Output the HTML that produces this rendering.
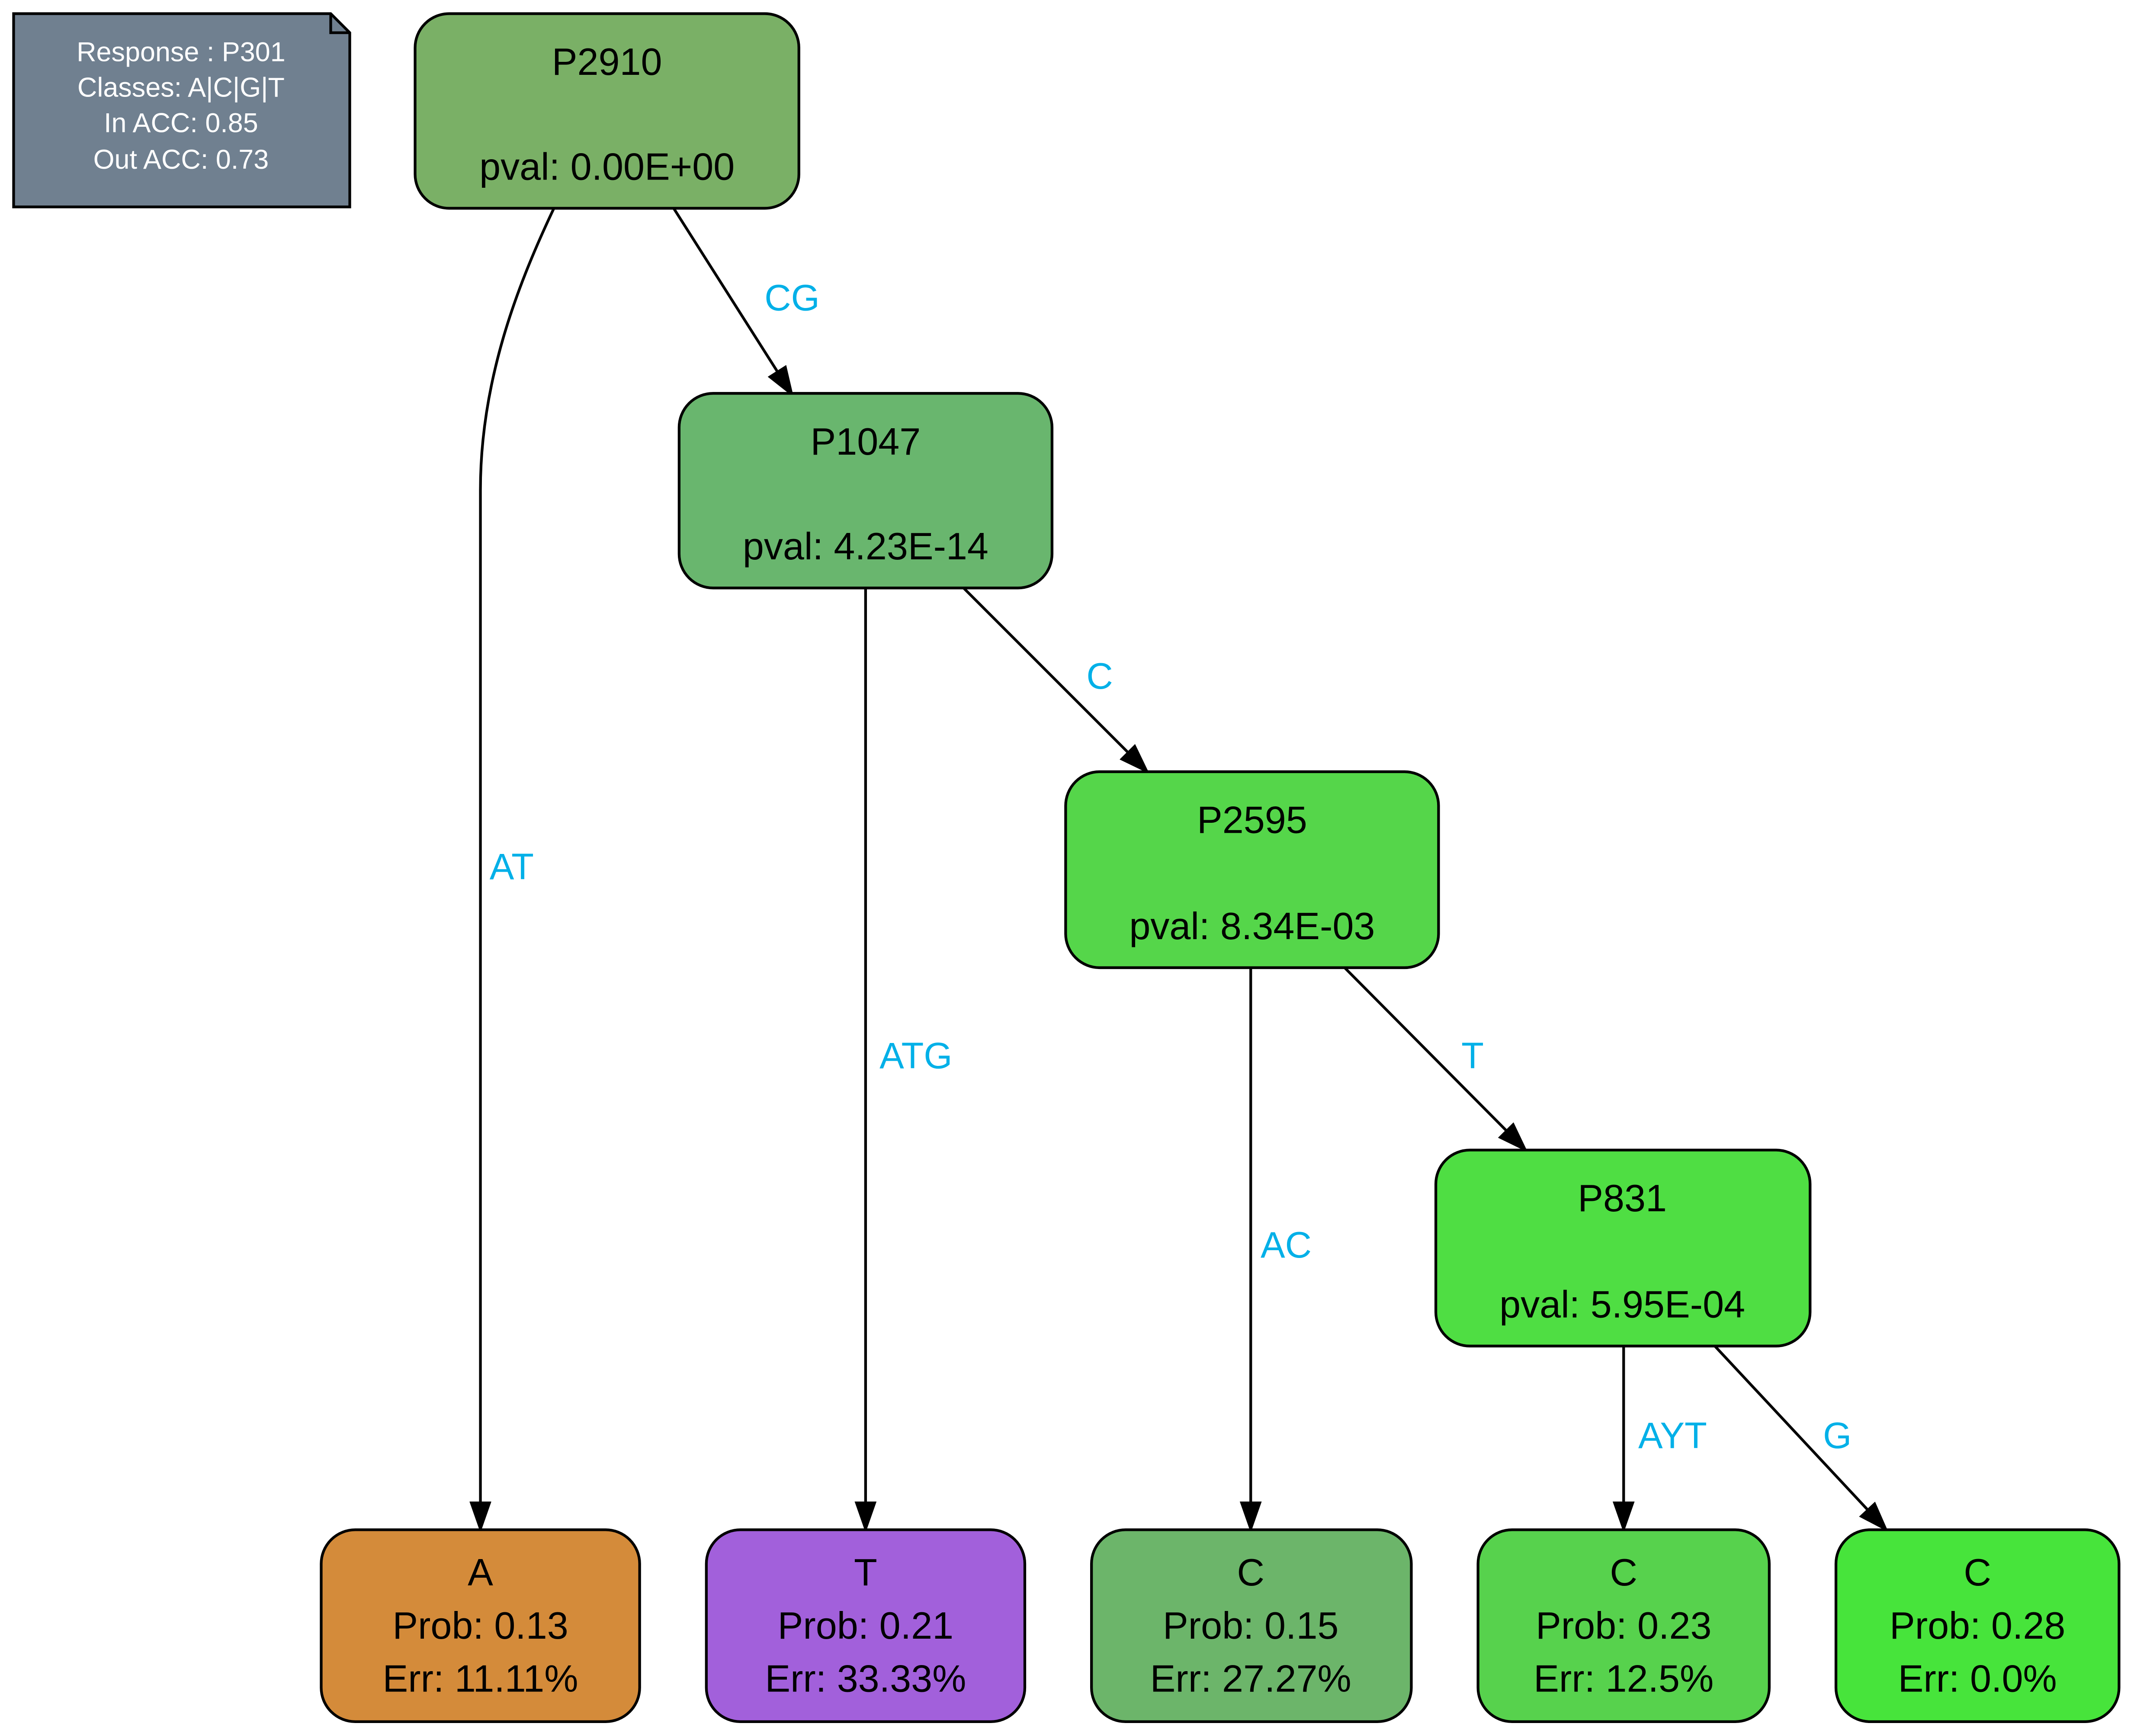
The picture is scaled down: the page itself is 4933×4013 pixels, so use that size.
<!DOCTYPE html>
<html><head><meta charset="utf-8"><style>
html,body{margin:0;padding:0;background:#fff;}
svg{display:block;}
text{font-family:"Liberation Sans",sans-serif;}
</style></head><body>
<svg width="4933" height="4013" viewBox="0 0 1568 1275.5" xmlns="http://www.w3.org/2000/svg">
<defs><marker id="a" markerWidth="22" markerHeight="16" refX="21" refY="8" orient="auto" markerUnits="userSpaceOnUse" viewBox="0 0 22 16"><path d="M1,1 L21,8 L1,15 z" fill="#000" stroke="#000" stroke-width="1.5"/></marker></defs>
<rect width="1568" height="1276" fill="#fff"/>
<path d="M10,10 H243 L257,24 V152 H10 Z" fill="#708090" stroke="#000" stroke-width="2"/>
<path d="M243,10 V24 H257" fill="none" stroke="#000" stroke-width="2"/>
<g fill="#fff" font-size="20" text-anchor="middle">
<text x="133" y="45">Response : P301</text>
<text x="133" y="71">Classes: A|C|G|T</text>
<text x="133" y="97">In ACC: 0.85</text>
<text x="133" y="124">Out ACC: 0.73</text>
</g>
<g stroke="#000" stroke-width="2" fill="none">
<path d="M407,153 C380,210 353,280 353,360 L353,1124" marker-end="url(#a)"/>
<path d="M495,153 L582,290" marker-end="url(#a)"/>
<path d="M636,432 L636,1124" marker-end="url(#a)"/>
<path d="M708,432 L843,567" marker-end="url(#a)"/>
<path d="M919,711 L919,1124" marker-end="url(#a)"/>
<path d="M988,711 L1121,845" marker-end="url(#a)"/>
<path d="M1193,989 L1193,1124" marker-end="url(#a)"/>
<path d="M1260,989 L1386,1124" marker-end="url(#a)"/>
</g>
<g fill="#00B0E8" font-size="27" text-anchor="middle">
<text x="376" y="646">AT</text>
<text x="582" y="228">CG</text>
<text x="673" y="785">ATG</text>
<text x="808" y="506">C</text>
<text x="945" y="924">AC</text>
<text x="1082" y="785">T</text>
<text x="1229" y="1064">AYT</text>
<text x="1350" y="1064">G</text>
</g>
<g stroke="#000" stroke-width="2">
<rect x="305" y="10" width="282" height="143" rx="25" fill="#7AB066"/>
<rect x="499" y="289" width="274" height="143" rx="25" fill="#69B66E"/>
<rect x="783" y="567" width="274" height="144" rx="25" fill="#55D64A"/>
<rect x="1055" y="845" width="275" height="144" rx="25" fill="#4FDE43"/>
<rect x="236" y="1124" width="234" height="141" rx="25" fill="#D48B3A"/>
<rect x="519" y="1124" width="234" height="141" rx="25" fill="#A260DB"/>
<rect x="802" y="1124" width="235" height="141" rx="25" fill="#6CB56A"/>
<rect x="1086" y="1124" width="214" height="141" rx="25" fill="#57D24D"/>
<rect x="1349" y="1124" width="208" height="141" rx="25" fill="#47E43B"/>
</g>
<g fill="#000" font-size="28" text-anchor="middle">
<text x="446" y="55">P2910</text><text x="446" y="132">pval: 0.00E+00</text>
<text x="636" y="334">P1047</text><text x="636" y="411">pval: 4.23E-14</text>
<text x="920" y="612">P2595</text><text x="920" y="690">pval: 8.34E-03</text>
<text x="1192" y="890">P831</text><text x="1192" y="968">pval: 5.95E-04</text>
<text x="353" y="1165">A</text><text x="353" y="1204">Prob: 0.13</text><text x="353" y="1243">Err: 11.11%</text>
<text x="636" y="1165">T</text><text x="636" y="1204">Prob: 0.21</text><text x="636" y="1243">Err: 33.33%</text>
<text x="919" y="1165">C</text><text x="919" y="1204">Prob: 0.15</text><text x="919" y="1243">Err: 27.27%</text>
<text x="1193" y="1165">C</text><text x="1193" y="1204">Prob: 0.23</text><text x="1193" y="1243">Err: 12.5%</text>
<text x="1453" y="1165">C</text><text x="1453" y="1204">Prob: 0.28</text><text x="1453" y="1243">Err: 0.0%</text>
</g>
</svg>
</body></html>
